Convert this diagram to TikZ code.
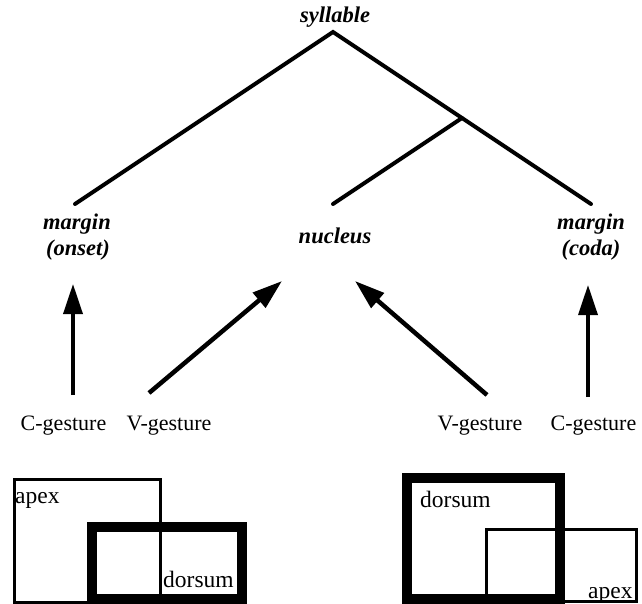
\documentclass[tikz,border=0pt]{standalone}
\usepackage{fontspec}
\setmainfont{Liberation Serif}
\usetikzlibrary{arrows.meta}
\begin{document}
\begin{tikzpicture}[x=1pt,y=-1pt,
  tree/.style={line width=4pt,line cap=round},
  arr/.style={line width=3.5pt,-{Triangle[length=30pt,width=19pt]}},
  varr/.style={arr,line width=4.5pt},
  lab/.style={font=\fontsize{22.5}{25}\selectfont\bfseries\itshape, inner sep=0pt, anchor=base},
  gest/.style={font=\fontsize{22}{25}\selectfont, inner sep=0pt, anchor=base},
  boxlab/.style={font=\fontsize{23.5}{26}\selectfont, inner sep=0pt, anchor=base west},
  thinbox/.style={draw, line width=3pt},
  thickbox/.style={draw, line width=10pt}]
\useasboundingbox (0,0) rectangle (642,604);
% tree
\node[lab] (syl) at (335,23) {syllable};
\coordinate (apex) at (333,32);
\coordinate (branch) at (462,118);
\coordinate (endL) at (75,204);
\coordinate (endN) at (333,204);
\coordinate (endR) at (591,204);
\node[lab] (marginL) at (77,229) {margin};
\node[lab] (onset) at (78,255) {(onset)};
\node[lab] (nucleus) at (335,243) {nucleus};
\node[lab] (marginR) at (591,229) {margin};
\node[lab] (coda) at (591,255) {(coda)};
\draw[tree] (endL) -- (apex) -- (endR);
\draw[tree] (branch) -- (endN);
% gestures
\node[gest] (cL) at (63.5,430) {C-gesture};
\node[gest] (vL) at (169,430) {V-gesture};
\node[gest] (vR) at (480,430) {V-gesture};
\node[gest] (cR) at (593.5,430) {C-gesture};
\coordinate (cLs) at (73,395);
\coordinate (cLt) at (73,284);
\coordinate (vLs) at (149,393);
\coordinate (vLt) at (282,281);
\coordinate (vRs) at (487,395);
\coordinate (vRt) at (355,281);
\coordinate (cRs) at (588,397);
\coordinate (cRt) at (588,285);
\draw[arr] (cLs) -- (cLt);
\draw[varr] (vLs) -- (vLt);
\draw[varr] (vRs) -- (vRt);
\draw[arr] (cRs) -- (cRt);
% left panel
\draw[thinbox] (14.5,479.5) rectangle (160,602);
\draw[thickbox] (92,527) rectangle (242,599);
\node[boxlab] (apexL) at (15,503) {apex};
\node[boxlab] (dorsumL) at (163,587) {dorsum};
% right panel
\draw[thickbox] (407,478) rectangle (560,599);
\draw[thinbox] (486.5,529.5) rectangle (636.5,601.5);
\node[boxlab] (dorsumR) at (420,507) {dorsum};
\node[boxlab] (apexR) at (588,598) {apex};
\end{tikzpicture}
\end{document}
